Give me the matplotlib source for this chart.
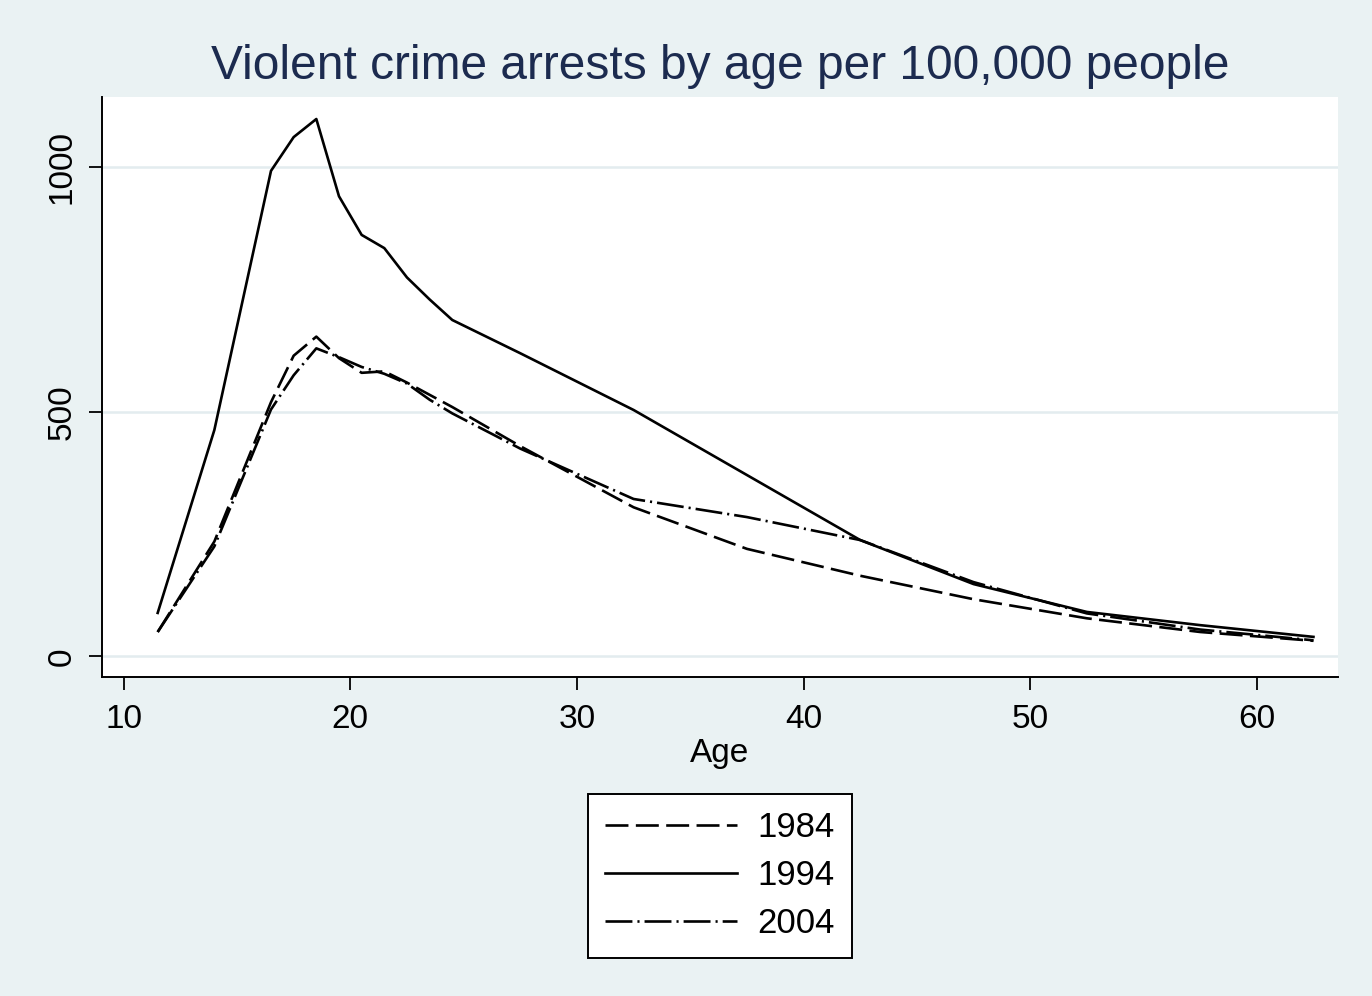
import matplotlib
matplotlib.use('Agg')
import matplotlib.pyplot as plt

plt.rcParams['font.family'] = ['Liberation Sans', 'DejaVu Sans']

# age group midpoints
age = [11.5, 14, 16.5, 17.5, 18.5, 19.5, 20.5, 21.5, 22.5, 23.5, 24.5,
       27.5, 32.5, 37.5, 42.5, 47.5, 52.5, 57.5, 62.5]

# arrests per 100,000 people
y1984 = [50, 235, 520, 615, 654, 610, 580, 583, 560, 535, 510,
         430, 305, 220, 165, 117, 78, 50, 32]
y1994 = [89, 463, 993, 1062, 1099, 941, 862, 835, 775, 730, 688,
         620, 504, 371, 238, 148, 91, 64, 40]
y2004 = [50, 225, 505, 575, 630, 612, 592, 578, 558, 525, 497,
         425, 322, 285, 238, 152, 88, 55, 33]

series = ['1984', '1994', '2004']
xticks = [10, 20, 30, 40, 50, 60]
yticks = [0, 500, 1000]

bg = '#eaf2f3'
grid_c = '#e3ecef'

fig = plt.figure(figsize=(13.72, 9.96), dpi=100, facecolor=bg)
ax = fig.add_axes([0.0743, 0.3203, 0.9007, 0.5823])
ax.set_facecolor('white')

lw = 1.9
ax.plot(age, y1984, color='black', lw=lw, linestyle=(0, (8.7, 2.8)), label=series[0])
ax.plot(age, y1994, color='black', lw=lw, linestyle='-', label=series[1])
ax.plot(age, y2004, color='black', lw=lw, linestyle=(0, (10.2, 1.9, 0.8, 1.9)), label=series[2])

ax.set_xlim(9.04, 63.57)
ax.set_ylim(-42, 1144)
ax.set_xticks(xticks)
ax.set_yticks(yticks)
ax.set_yticklabels([str(t) for t in yticks], rotation=90, va='center')

for t in yticks:
    ax.axhline(t, color=grid_c, lw=1.8, zorder=0)

for s in ['top', 'right']:
    ax.spines[s].set_visible(False)
for s in ['left', 'bottom']:
    ax.spines[s].set_linewidth(1.4)
    ax.spines[s].set_color('black')

ax.tick_params(axis='both', direction='out', length=9.5, width=1.3,
               labelsize=24, colors='black')
ax.tick_params(axis='y', pad=8)
ax.tick_params(axis='x', pad=10)

ax.set_xlabel('Age', fontsize=24, labelpad=2)
ax.set_title('Violent crime arrests by age per 100,000 people',
             fontsize=34.5, color='#1c2b4f', pad=13)

leg = fig.legend(loc='upper center', bbox_to_anchor=(0.5245, 1 - 794 / 996),
                 fontsize=25, handlelength=3.8, handletextpad=0.58,
                 borderpad=0.5, labelspacing=0.43, fancybox=False,
                 framealpha=1, edgecolor='black', borderaxespad=0)
leg.get_frame().set_linewidth(1.4)

fig.savefig('out.png', dpi=100, facecolor=bg)
